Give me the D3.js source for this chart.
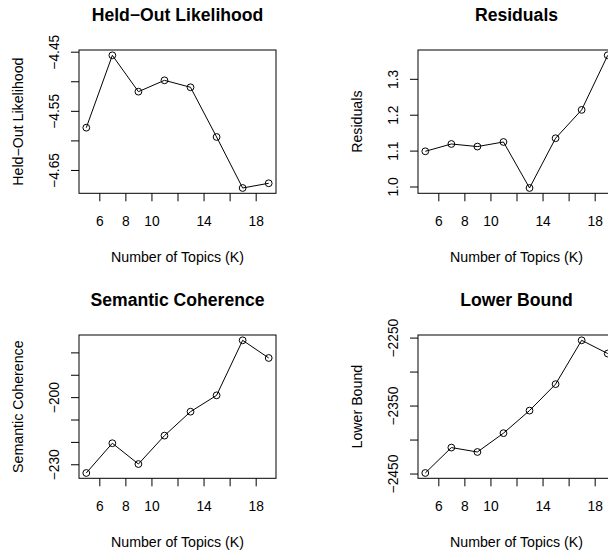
<!DOCTYPE html>
<html>
<head>
<meta charset="utf-8">
<script src="https://cdn.jsdelivr.net/npm/d3@7"></script>
<style>
  body { margin: 0; background: #fff; }
  svg text { font-family: "Liberation Sans", Arial, Helvetica, sans-serif; fill: #000; }
</style>
</head>
<body>
<div id="viz"></div>
<script>
// values
const topicsK = [5, 7, 9, 11, 13, 15, 17, 19];
const heldout = [-4.5785, -4.4561, -4.5176, -4.4984, -4.5102, -4.5942, -4.6805, -4.6725];
const residuals = [1.098, 1.1184, 1.1112, 1.124, 0.9958, 1.1344, 1.2134, 1.3655];
const semcoh = [-233.9, -220.6, -229.9, -217.2, -206.5, -199.2, -174.6, -182.5];
const lbound = [-2449.2, -2411.8, -2418.3, -2390.6, -2357.4, -2318.5, -2254.0, -2273.5];

const xTicks = [6, 8, 10, 12, 14, 16, 18];
const xTickLabels = [6, 8, 10, 14, 18];

const heldoutTicks = [-4.45, -4.50, -4.55, -4.60, -4.65];
const heldoutLabels = [-4.45, -4.55, -4.65];
const residualTicks = [1.0, 1.1, 1.2, 1.3];
const residualLabels = [1.0, 1.1, 1.2, 1.3];
const semcohTicks = [-230, -220, -210, -200, -190, -180];
const semcohLabels = [-230, -200];
const lboundTicks = [-2450, -2400, -2350, -2300, -2250];
const lboundLabels = [-2450, -2350, -2250];

const panels = [
  {title: 'Held\u2212Out Likelihood', ylab: 'Held\u2212Out Likelihood', values: heldout,
   ticks: heldoutTicks, labels: heldoutLabels, fmt: d3.format('.2f'), col: 0, row: 0},
  {title: 'Residuals', ylab: 'Residuals', values: residuals,
   ticks: residualTicks, labels: residualLabels, fmt: d3.format('.1f'), col: 1, row: 0},
  {title: 'Semantic Coherence', ylab: 'Semantic Coherence', values: semcoh,
   ticks: semcohTicks, labels: semcohLabels, fmt: d3.format('d'), col: 0, row: 1},
  {title: 'Lower Bound', ylab: 'Lower Bound', values: lbound,
   ticks: lboundTicks, labels: lboundLabels, fmt: d3.format('d'), col: 1, row: 1}
];

const width = 608;
const height = 552;
const boxW = 197;
const boxH = 143.3;
const colX = [79, 418];
const rowY = [50, 335];

// R style axis range: data range padded by 4% on each side
const padRange = vals => {
  const [lo, hi] = d3.extent(vals);
  const d = (hi - lo) * 0.04;
  return [lo - d, hi + d];
};

const svg = d3.select('#viz')
  .append('svg')
  .attr('width', width)
  .attr('height', height);

panels.forEach(p => {
  const g = svg.append('g')
    .attr('transform', `translate(${colX[p.col]},${rowY[p.row]})`);

  const x = d3.scaleLinear().domain(padRange(topicsK)).range([0, boxW]);
  const y = d3.scaleLinear().domain(padRange(p.values)).range([boxH, 0]);

  // x axis
  const xAxis = g.append('g')
    .attr('transform', `translate(0,${boxH})`)
    .call(d3.axisBottom(x).tickValues(xTicks).tickSize(8).tickSizeOuter(0)
      .tickFormat(d => xTickLabels.includes(d) ? d : ''));
  xAxis.select('.domain').remove();
  xAxis.selectAll('line').attr('stroke', '#000');
  xAxis.selectAll('text')
    .attr('y', 33).attr('dy', 0)
    .style('font-size', '13.8px');

  // y axis
  const yAxis = g.append('g')
    .call(d3.axisLeft(y).tickValues(p.ticks).tickSize(8).tickSizeOuter(0)
      .tickFormat(d => p.labels.some(l => Math.abs(l - d) < 1e-9) ? p.fmt(d) : ''));
  yAxis.select('.domain').remove();
  yAxis.selectAll('line').attr('stroke', '#000');
  yAxis.selectAll('text')
    .attr('x', 0).attr('y', -19.7).attr('dy', 0)
    .attr('transform', 'rotate(-90)')
    .attr('text-anchor', 'middle')
    .style('font-size', '13.8px');

  // box
  g.append('rect')
    .attr('width', boxW).attr('height', boxH)
    .attr('fill', 'none').attr('stroke', '#000').attr('stroke-width', 1);

  const pts = topicsK.map((k, i) => [k, p.values[i]]);

  g.append('path')
    .datum(pts)
    .attr('fill', 'none')
    .attr('stroke', '#000')
    .attr('stroke-width', 1)
    .attr('d', d3.line().x(d => x(d[0])).y(d => y(d[1])));

  g.selectAll('circle')
    .data(pts)
    .join('circle')
    .attr('cx', d => x(d[0]))
    .attr('cy', d => y(d[1]))
    .attr('r', 3.4)
    .attr('fill', 'none')
    .attr('stroke', '#000')
    .attr('stroke-width', 1);

  // titles
  g.append('text')
    .attr('x', boxW / 2).attr('y', -29)
    .attr('text-anchor', 'middle')
    .style('font-size', '17.6px').style('font-weight', 'bold')
    .text(p.title);

  g.append('text')
    .attr('x', boxW / 2).attr('y', boxH + 69)
    .attr('text-anchor', 'middle')
    .style('font-size', '14.2px')
    .text('Number of Topics (K)');

  g.append('text')
    .attr('transform', `translate(-55.7,${boxH / 2}) rotate(-90)`)
    .attr('text-anchor', 'middle')
    .style('font-size', '14.2px')
    .text(p.ylab);
});
</script>
</body>
</html>
